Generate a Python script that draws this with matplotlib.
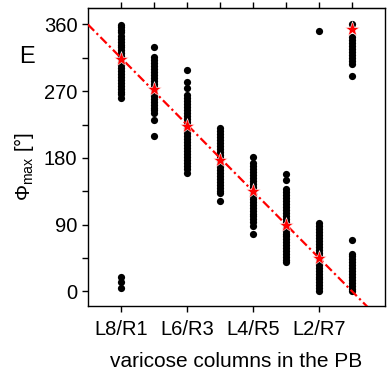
import matplotlib
matplotlib.use("Agg")
import matplotlib.pyplot as plt

plt.rcParams['font.family'] = ['Liberation Sans', 'DejaVu Sans']
plt.rcParams['mathtext.fontset'] = 'custom'
plt.rcParams['mathtext.rm'] = 'Liberation Sans'
plt.rcParams['mathtext.it'] = 'Liberation Sans'
plt.rcParams['mathtext.default'] = 'regular'

columns = [1, 2, 3, 4, 5, 6, 7, 8]
tick_labels = ["L8/R1", "L6/R3", "L4/R5", "L2/R7"]
tick_positions = [1, 3, 5, 7]

col1 = [359, 356, 353, 350, 345, 341, 337, 333, 329, 325, 321, 317, 313, 309, 305,
        301, 297, 293, 289, 285, 281, 277, 273, 269, 266, 261, 5, 13, 19]
col2 = [329, 316, 312, 308, 304, 300, 296, 292, 288, 284, 280, 276, 272, 268, 264,
        260, 256, 252, 248, 244, 240, 231, 209]
col3 = [299, 282, 274, 265, 261, 257, 253, 249, 245, 241, 237, 233, 229, 225, 221,
        217, 213, 209, 205, 201, 197, 193, 189, 185, 181, 177, 173, 169, 165, 160]
col4 = [220, 216, 212, 208, 204, 200, 196, 192, 188, 184, 180, 176, 172, 168, 164,
        160, 156, 152, 148, 144, 140, 136, 133, 122]
col5 = [181, 173, 169, 165, 161, 157, 153, 149, 145, 141, 137, 133, 129, 125, 121,
        117, 113, 109, 105, 101, 97, 93, 88, 77]
col6 = [158, 150, 138, 134, 130, 126, 122, 118, 114, 110, 106, 102, 98, 94, 90, 86,
        82, 78, 74, 70, 66, 62, 58, 54, 50, 46, 42, 39]
col7 = [351, 92, 88, 84, 80, 76, 72, 68, 64, 60, 56, 52, 48, 44, 40, 36, 32, 28, 24,
        20, 16, 12, 8, 4, 1]
col8 = [360, 343, 339, 335, 331, 327, 323, 319, 315, 311, 307, 291,
        69, 51, 47, 43, 39, 35, 31, 27, 23, 19, 15, 11, 7, 3, 0]
column_values = [col1, col2, col3, col4, col5, col6, col7, col8]

mean_values = [313, 273, 223, 177, 136, 90, 45, 354]
fit_x = [0, 9]
fit_y = [360, -45]

fig = plt.figure(figsize=(3.89, 3.72), dpi=100)
ax = fig.add_axes([0.226, 0.177, 0.764, 0.801])

for c, vals in zip(columns, column_values):
    ax.plot([c] * len(vals), vals, 'o', color='black', markersize=5.2,
            markeredgewidth=0, zorder=2)

ax.plot(fit_x, fit_y, color='red', linestyle=(0, (4, 1.5, 1, 1.5)), linewidth=1.6,
        zorder=3)
ax.plot(columns, mean_values, '*', color='red', markersize=11,
        markeredgecolor='white', markeredgewidth=0.4, zorder=4)

ax.set_xlim(0, 9)
ax.set_ylim(-20, 382)
ax.set_yticks([0, 90, 180, 270, 360])
ax.set_yticks([45, 135, 225, 315], minor=True)
ax.set_xticks(tick_positions)
ax.set_xticklabels(tick_labels)
ax.tick_params(axis='both', which='both', direction='out', length=4, width=1,
               labelsize=14.5)
ax.tick_params(axis='x', pad=6)
ax.tick_params(axis='y', which='minor', length=4)

secx = ax.secondary_xaxis('top')
secx.set_xticks(columns)
secx.tick_params(direction='out', length=4, width=1, labeltop=False)

for s in ax.spines.values():
    s.set_linewidth(1)

ax.set_xlabel('varicose columns in the PB', fontsize=15, labelpad=9)
ax.set_ylabel(r'$\Phi_{max}$ [°]', fontsize=14.5, labelpad=3)
ax.yaxis.set_label_coords(-0.175, 0.47)
fig.text(0.069, 0.848, 'E', fontsize=17, ha='center', va='center')

fig.savefig('out.png', dpi=100)
